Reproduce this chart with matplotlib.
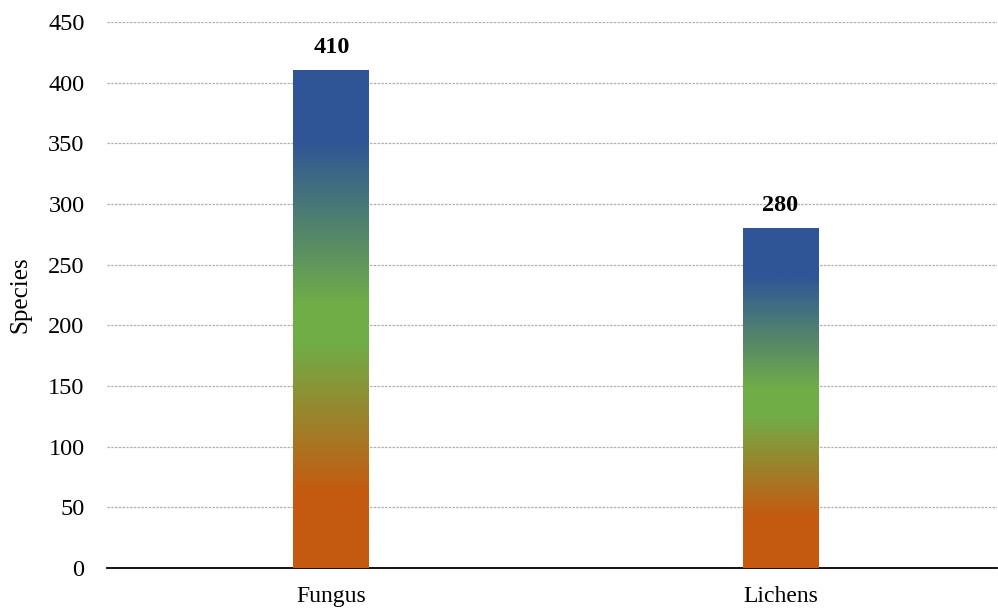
import numpy as np
import matplotlib
matplotlib.use("Agg")
import matplotlib.pyplot as plt
from matplotlib.colors import LinearSegmentedColormap

# DATA
categories = ["Fungus", "Lichens"]
species = [410, 280]
y_ticks = list(range(0, 451, 50))

# gradient bottom -> top: orange, green, blue
grad = LinearSegmentedColormap.from_list(
    "bar_grad",
    [(0.0, "#C55A11"), (0.15, "#C55A11"), (0.45, "#70AD47"),
     (0.53, "#70AD47"), (0.86, "#2F5597"), (1.0, "#2F5597")],
)

plt.rcParams["font.family"] = ["Liberation Serif", "DejaVu Serif"]

fig = plt.figure(figsize=(9.98, 6.08), dpi=100)
ax = fig.add_axes([0.107, 0.066, 0.892, 0.898])

x = np.arange(len(categories))
bars = ax.bar(x, species, width=0.169, color="none", edgecolor="none", zorder=3)

# fill each bar with its own vertical gradient
g = np.linspace(0, 1, 256).reshape(-1, 1)
for rect in bars:
    x0, w, h = rect.get_x(), rect.get_width(), rect.get_height()
    im = ax.imshow(g, cmap=grad, origin="lower", aspect="auto",
                   extent=(x0, x0 + w, 0, h), zorder=3)
    im.set_clip_path(rect)
    ax.text(x0 + w / 2, h + 10, f"{h:.0f}", ha="center", va="bottom",
            fontsize=17.5, fontweight="bold", zorder=4)

ax.set_xlim(-0.5, 1.482)
ax.set_ylim(0, 450)
ax.set_yticks(y_ticks)
ax.set_xticks(x)
ax.set_xticklabels(categories)
ax.tick_params(axis="y", length=0, labelsize=17.5, pad=16)
ax.tick_params(axis="x", length=0, labelsize=17, pad=13)
ax.set_ylabel("Species", fontsize=18, labelpad=12)

ax.yaxis.grid(True, color="#B0B0B0", linestyle=(0, (2, 1)), linewidth=0.9, zorder=0)
ax.set_axisbelow(True)
for side in ("top", "right", "left"):
    ax.spines[side].set_visible(False)
ax.spines["bottom"].set_linewidth(1.3)
ax.spines["bottom"].set_color("black")

fig.savefig("out.png", dpi=100)
